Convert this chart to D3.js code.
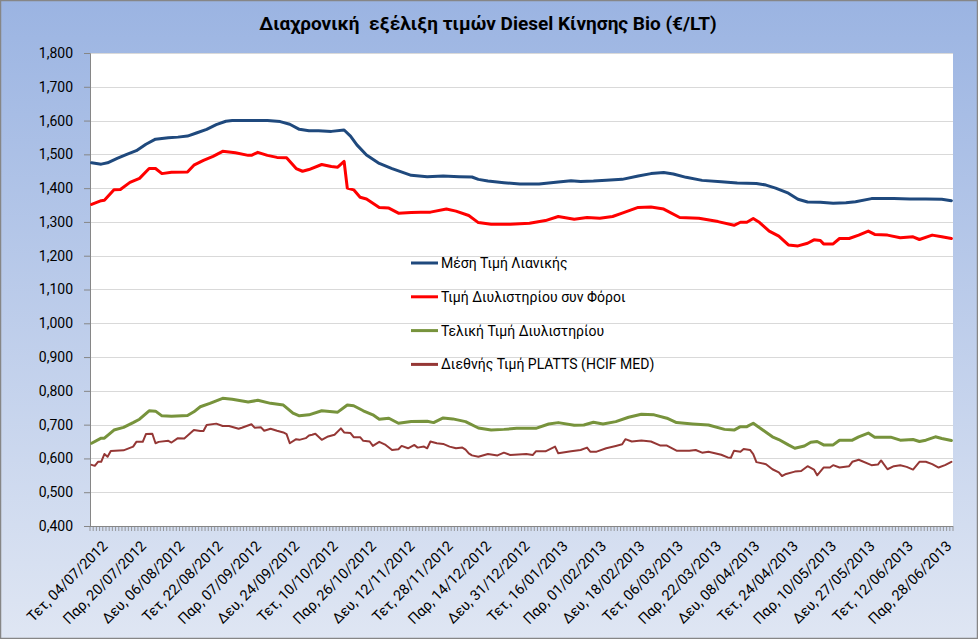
<!DOCTYPE html>
<html><head><meta charset="utf-8">
<script src="https://cdn.jsdelivr.net/npm/d3@7/dist/d3.min.js"></script>
<style>body{margin:0;background:#fff;} svg text{font-family:Roboto,"Noto Sans",sans-serif;fill:#000;}</style>
</head><body><svg id="c" width="978" height="639"></svg>
<script>
const chartTitle = "Διαχρονική  εξέλιξη τιμών Diesel Κίνησης Bio (€/LT)";
const categoryCount = 270;
const firstLabelIndex = 5;
const labelStep = 12;
const tickLabels = ["Τετ, 04/07/2012","Παρ, 20/07/2012","Δευ, 06/08/2012","Τετ, 22/08/2012","Παρ, 07/09/2012","Δευ, 24/09/2012","Τετ, 10/10/2012","Παρ, 26/10/2012","Δευ, 12/11/2012","Τετ, 28/11/2012","Παρ, 14/12/2012","Δευ, 31/12/2012","Τετ, 16/01/2013","Παρ, 01/02/2013","Δευ, 18/02/2013","Τετ, 06/03/2013","Παρ, 22/03/2013","Δευ, 08/04/2013","Τετ, 24/04/2013","Παρ, 10/05/2013","Δευ, 27/05/2013","Τετ, 12/06/2013","Παρ, 28/06/2013"];
const yTicks = [0.4,0.5,0.6,0.7,0.8,0.9,1.0,1.1,1.2,1.3,1.4,1.5,1.6,1.7,1.8];
const seriesNames = ["Μέση Τιμή Λιανικής","Τιμή Διυλιστηρίου συν Φόροι","Τελική Τιμή Διυλιστηρίου","Διεθνής Τιμή PLATTS (HCIF MED)"];
const seriesColors = ["#1f497d","#ff0000","#77933c","#953735"];
const seriesWidths = [3,3,3,2];

// [category index, value]
const retailPrice = [[0,1.475],[3,1.471],[5,1.475],[8,1.488],[11,1.500],[14,1.511],[17,1.530],[20,1.545],[24,1.549],[27,1.551],[30,1.554],[33,1.564],[36,1.574],[39,1.588],[42,1.598],[44,1.600],[55,1.600],[59,1.597],[62,1.589],[65,1.574],[68,1.570],[71,1.570],[75,1.568],[79,1.572],[81,1.554],[83,1.528],[86,1.498],[90,1.473],[94,1.458],[100,1.438],[105,1.434],[110,1.436],[115,1.434],[119,1.433],[121,1.426],[124,1.421],[129,1.416],[134,1.412],[140,1.412],[146,1.418],[150,1.422],[153,1.420],[157,1.421],[161,1.423],[166,1.426],[171,1.436],[175,1.443],[179,1.446],[182,1.442],[186,1.432],[191,1.423],[197,1.419],[202,1.415],[208,1.414],[211,1.409],[214,1.400],[218,1.385],[221,1.367],[224,1.359],[228,1.358],[232,1.355],[236,1.357],[239,1.360],[244,1.369],[251,1.369],[256,1.368],[261,1.368],[266,1.367],[269,1.363]];
const refineryTaxed = [[0,1.352],[3,1.363],[4,1.364],[7,1.395],[9,1.396],[12,1.417],[15,1.429],[18,1.458],[20,1.458],[22,1.443],[25,1.447],[30,1.448],[32,1.468],[35,1.482],[38,1.494],[41,1.509],[45,1.505],[49,1.497],[50,1.497],[52,1.506],[55,1.497],[58,1.491],[61,1.490],[64,1.458],[66,1.450],[68,1.455],[72,1.470],[75,1.464],[77,1.462],[79,1.479],[80,1.400],[82,1.395],[84,1.373],[86,1.368],[90,1.343],[93,1.341],[96,1.326],[100,1.328],[103,1.329],[106,1.329],[111,1.338],[114,1.332],[118,1.319],[121,1.298],[125,1.293],[131,1.293],[137,1.296],[142,1.304],[146,1.316],[151,1.308],[155,1.313],[159,1.311],[163,1.316],[166,1.326],[171,1.343],[175,1.344],[179,1.338],[184,1.313],[190,1.311],[196,1.301],[201,1.290],[203,1.299],[205,1.299],[207,1.310],[209,1.298],[212,1.273],[215,1.258],[218,1.232],[221,1.229],[224,1.237],[226,1.247],[228,1.245],[229,1.235],[232,1.235],[234,1.251],[237,1.251],[240,1.261],[243,1.273],[245,1.263],[249,1.261],[253,1.253],[257,1.256],[259,1.248],[263,1.261],[266,1.256],[269,1.251]];
const refineryFinal = [[0,0.645],[3,0.660],[4,0.660],[7,0.684],[10,0.692],[13,0.706],[15,0.716],[18,0.741],[20,0.740],[22,0.726],[25,0.725],[30,0.727],[32,0.738],[34,0.753],[37,0.763],[41,0.778],[44,0.775],[49,0.767],[52,0.772],[56,0.763],[60,0.758],[63,0.734],[65,0.726],[68,0.729],[72,0.741],[77,0.737],[80,0.758],[82,0.756],[85,0.741],[88,0.729],[90,0.716],[93,0.719],[96,0.704],[100,0.709],[105,0.710],[107,0.706],[110,0.720],[113,0.717],[117,0.709],[121,0.690],[125,0.684],[129,0.686],[133,0.689],[139,0.689],[143,0.702],[146,0.706],[151,0.698],[154,0.699],[157,0.707],[160,0.702],[164,0.709],[168,0.722],[172,0.731],[176,0.729],[180,0.719],[183,0.706],[188,0.702],[193,0.699],[198,0.686],[201,0.684],[203,0.694],[205,0.694],[207,0.704],[210,0.684],[213,0.664],[215,0.656],[218,0.640],[220,0.630],[223,0.637],[225,0.648],[227,0.650],[229,0.640],[232,0.640],[234,0.654],[238,0.654],[240,0.664],[243,0.675],[245,0.663],[250,0.663],[253,0.654],[257,0.656],[259,0.650],[261,0.654],[264,0.664],[266,0.659],[269,0.653]];
const plattsPrice = [[0,0.581],[1,0.578],[2,0.590],[3,0.590],[4,0.613],[5,0.605],[6,0.622],[10,0.624],[13,0.635],[14,0.649],[16,0.649],[17,0.672],[19,0.673],[20,0.645],[21,0.649],[24,0.652],[25,0.647],[27,0.660],[29,0.659],[32,0.684],[34,0.681],[35,0.681],[36,0.699],[39,0.703],[41,0.696],[43,0.696],[46,0.688],[47,0.691],[50,0.701],[51,0.691],[53,0.692],[54,0.682],[56,0.688],[58,0.682],[60,0.677],[61,0.672],[62,0.645],[64,0.657],[65,0.655],[67,0.660],[68,0.668],[69,0.670],[70,0.673],[72,0.655],[74,0.665],[76,0.670],[78,0.689],[79,0.677],[81,0.675],[82,0.663],[84,0.663],[85,0.652],[87,0.650],[88,0.637],[89,0.643],[90,0.649],[92,0.640],[94,0.625],[96,0.627],[97,0.637],[99,0.630],[101,0.640],[102,0.632],[104,0.635],[105,0.630],[106,0.650],[108,0.645],[110,0.643],[112,0.635],[114,0.630],[116,0.632],[117,0.626],[118,0.615],[119,0.609],[121,0.605],[124,0.613],[127,0.609],[129,0.617],[131,0.610],[136,0.613],[138,0.610],[139,0.621],[142,0.621],[145,0.635],[146,0.615],[150,0.621],[153,0.625],[155,0.632],[156,0.620],[158,0.620],[161,0.630],[164,0.637],[166,0.642],[167,0.657],[169,0.650],[172,0.653],[175,0.650],[178,0.638],[180,0.638],[183,0.623],[187,0.623],[189,0.625],[191,0.617],[193,0.620],[197,0.611],[199,0.603],[200,0.602],[201,0.623],[203,0.620],[204,0.628],[206,0.625],[207,0.613],[208,0.589],[211,0.583],[213,0.568],[215,0.559],[216,0.548],[217,0.553],[220,0.561],[222,0.563],[224,0.577],[226,0.567],[227,0.550],[229,0.573],[231,0.573],[232,0.580],[234,0.573],[237,0.577],[238,0.590],[240,0.596],[244,0.580],[246,0.582],[247,0.594],[249,0.568],[251,0.577],[253,0.580],[255,0.575],[257,0.567],[259,0.590],[261,0.590],[263,0.583],[265,0.573],[267,0.580],[269,0.590]];

const allSeries = [retailPrice, refineryTaxed, refineryFinal, plattsPrice];

const W = 978, H = 639;
const plot = {left: 90, right: 953, top: 53, bottom: 526};
const svg = d3.select("#c");

const defs = svg.append("defs");
const grad = defs.append("linearGradient").attr("id","bg").attr("x1",0).attr("y1",0).attr("x2",0).attr("y2",1);
grad.append("stop").attr("offset","0%").attr("stop-color","#9bb4e2");
grad.append("stop").attr("offset","100%").attr("stop-color","#dfe6f3");

svg.append("rect").attr("x",0.5).attr("y",0.5).attr("width",W-1).attr("height",H-1)
  .attr("fill","url(#bg)").attr("stroke","#868686").attr("stroke-width",1.5);
svg.append("rect").attr("x",plot.left).attr("y",plot.top).attr("width",plot.right-plot.left).attr("height",plot.bottom-plot.top).attr("fill","#fff");

const x = d3.scaleBand().domain(d3.range(categoryCount)).range([plot.left, plot.right]).padding(0);
const cx = i => x(i) + x.bandwidth()/2;
const y = d3.scaleLinear().domain([0.4, 1.8]).range([plot.bottom, plot.top]);

// gridlines
svg.append("g").selectAll("line").data(yTicks.slice(1)).join("line")
  .attr("x1",plot.left).attr("x2",plot.right)
  .attr("y1",d=>Math.round(y(d))+0.5).attr("y2",d=>Math.round(y(d))+0.5)
  .attr("stroke","#d9d9d9").attr("stroke-width",1);

// y axis
const fmt = d => d3.format(".3f")(d).replace(".", ",");
const yAxis = svg.append("g").attr("transform",`translate(${plot.left},0)`)
  .call(d3.axisLeft(y).tickValues(yTicks).tickSize(6).tickPadding(11).tickFormat(fmt));
yAxis.select(".domain").attr("stroke","#868686");
yAxis.selectAll(".tick line").attr("stroke","#868686");
yAxis.selectAll(".tick text").attr("font-size",14).attr("font-family","Roboto").attr("fill","#000");

// x axis baseline + category ticks
svg.append("line").attr("x1",plot.left).attr("x2",plot.right).attr("y1",plot.bottom+0.5).attr("y2",plot.bottom+0.5).attr("stroke","#868686");
svg.append("g").selectAll("line").data(d3.range(categoryCount+1)).join("line")
  .attr("x1",i => i<categoryCount ? x(i) : plot.right).attr("x2",i => i<categoryCount ? x(i) : plot.right)
  .attr("y1",plot.bottom).attr("y2",plot.bottom+5).attr("stroke","#868686").attr("stroke-width",0.8);

// x labels
svg.append("g").selectAll("text").data(tickLabels).join("text")
  .attr("transform",(d,k)=>`translate(${cx(firstLabelIndex + k*labelStep)+1},${plot.bottom+21}) rotate(-45)`)
  .attr("text-anchor","end").attr("font-size",14.5).text(d=>d);

// lines
const line = d3.line().x(d=>cx(d[0])).y(d=>y(d[1]));
svg.append("g").selectAll("path").data(allSeries).join("path")
  .attr("d",line).attr("fill","none")
  .attr("stroke",(d,i)=>seriesColors[i]).attr("stroke-width",(d,i)=>seriesWidths[i])
  .attr("stroke-linejoin","round").attr("stroke-linecap","round");

// legend
const lg = svg.append("g").selectAll("g").data(seriesNames).join("g")
  .attr("transform",(d,i)=>`translate(411,${263 + i*33.8})`);
lg.append("line").attr("x1",0).attr("x2",27).attr("y1",0).attr("y2",0)
  .attr("stroke",(d,i)=>seriesColors[i]).attr("stroke-width",3);
lg.append("text").attr("x",30).attr("y",5).attr("font-size",14).text(d=>d);

// title
svg.append("text").attr("x",488).attr("y",30).attr("text-anchor","middle")
  .attr("font-size",19).attr("font-weight","bold").style("white-space","pre").attr("fill","#111").text(chartTitle);
</script></body></html>
